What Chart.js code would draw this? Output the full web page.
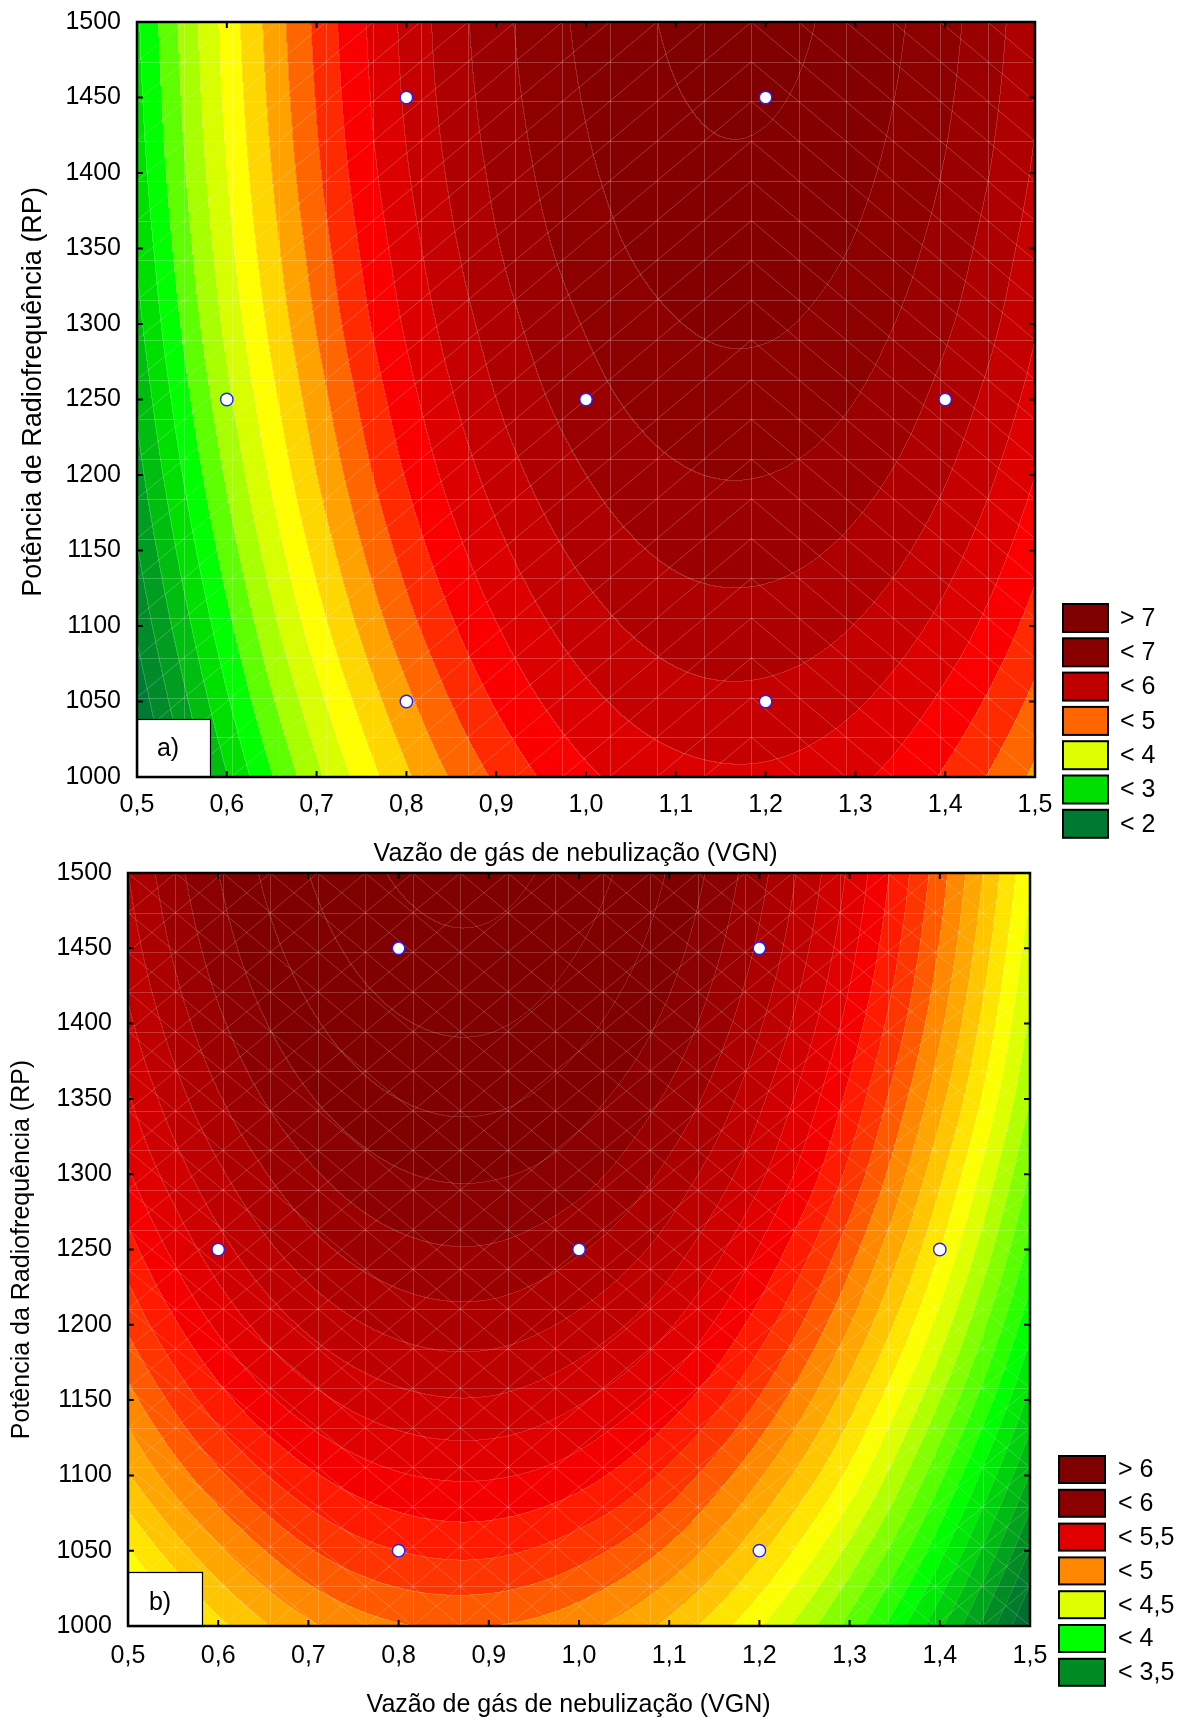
<!DOCTYPE html>
<html lang="pt">
<head>
<meta charset="utf-8">
<script src="https://cdn.jsdelivr.net/npm/chart.js@4.4.1/dist/chart.umd.min.js"></script>
<style>
html,body{margin:0;padding:0;background:#ffffff;}
#page{position:relative;width:1188px;height:1720px;overflow:hidden;background:#fff;}
canvas{position:absolute;left:0;}
</style>
</head>
<body>
<div id="page">
<canvas id="chartA" width="1188" height="870" style="top:0px"></canvas>
<canvas id="chartB" width="1188" height="870" style="top:850px"></canvas>
</div>
<script>
const FONT = "'Liberation Sans', Arial, Helvetica, sans-serif";
Chart.defaults.font.family = FONT;
Chart.defaults.font.size = 25;
Chart.defaults.color = '#000';

// ---- data ----
const vgnGrid = [0.5, 0.6, 0.7, 0.8, 0.9, 1.0, 1.1, 1.2, 1.3, 1.4, 1.5];
const rpGrid = [1000, 1050, 1100, 1150, 1200, 1250, 1300, 1350, 1400, 1450, 1500];
const xTickValues = [0.5, 0.6, 0.7, 0.8, 0.9, 1.0, 1.1, 1.2, 1.3, 1.4, 1.5];
const yTickValues = [1000, 1050, 1100, 1150, 1200, 1250, 1300, 1350, 1400, 1450, 1500];

// response surface a) — rows follow rpGrid, columns follow vgnGrid (estimated from picture)
const surfaceA = [
  [1.60, 2.74, 3.69, 4.46, 5.04, 5.45, 5.66, 5.70, 5.55, 5.21, 4.69],
  [1.83, 2.97, 3.92, 4.69, 5.28, 5.68, 5.90, 5.93, 5.78, 5.44, 4.93],
  [2.05, 3.18, 4.14, 4.91, 5.49, 5.89, 6.11, 6.14, 5.99, 5.66, 5.14],
  [2.24, 3.37, 4.33, 5.10, 5.68, 6.08, 6.30, 6.33, 6.18, 5.85, 5.33],
  [2.41, 3.54, 4.50, 5.27, 5.85, 6.25, 6.47, 6.50, 6.35, 6.02, 5.50],
  [2.55, 3.69, 4.64, 5.41, 6.00, 6.40, 6.62, 6.65, 6.50, 6.16, 5.65],
  [2.68, 3.82, 4.77, 5.54, 6.12, 6.52, 6.74, 6.78, 6.62, 6.29, 5.77],
  [2.78, 3.92, 4.87, 5.64, 6.23, 6.63, 6.85, 6.88, 6.73, 6.39, 5.87],
  [2.87, 4.00, 4.96, 5.73, 6.31, 6.71, 6.93, 6.96, 6.81, 6.48, 5.96],
  [2.93, 4.06, 5.02, 5.79, 6.37, 6.77, 6.99, 7.02, 6.87, 6.54, 6.02],
  [2.97, 4.10, 5.06, 5.82, 6.41, 6.81, 7.03, 7.06, 6.91, 6.58, 6.06]
];
// response surface b)
const surfaceB = [
  [4.38, 4.67, 4.88, 4.99, 5.00, 4.93, 4.77, 4.51, 4.16, 3.72, 3.18],
  [4.59, 4.88, 5.09, 5.20, 5.22, 5.14, 4.98, 4.72, 4.37, 3.93, 3.39],
  [4.79, 5.08, 5.28, 5.39, 5.41, 5.34, 5.17, 4.91, 4.57, 4.12, 3.59],
  [4.96, 5.26, 5.46, 5.57, 5.59, 5.51, 5.35, 5.09, 4.74, 4.30, 3.77],
  [5.12, 5.42, 5.62, 5.73, 5.75, 5.67, 5.51, 5.25, 4.90, 4.46, 3.93],
  [5.26, 5.56, 5.76, 5.87, 5.89, 5.81, 5.65, 5.39, 5.04, 4.60, 4.07],
  [5.39, 5.68, 5.88, 5.99, 6.01, 5.94, 5.77, 5.52, 5.17, 4.72, 4.19],
  [5.49, 5.79, 5.99, 6.10, 6.12, 6.04, 5.88, 5.62, 5.27, 4.83, 4.30],
  [5.58, 5.88, 6.08, 6.19, 6.21, 6.13, 5.97, 5.71, 5.36, 4.92, 4.38],
  [5.65, 5.95, 6.15, 6.26, 6.28, 6.20, 6.04, 5.78, 5.43, 4.99, 4.45],
  [5.70, 6.00, 6.20, 6.31, 6.33, 6.25, 6.09, 5.83, 5.48, 5.04, 4.51]
];

// experimental design points
const designVGN = [0.6, 0.8, 1.2, 1.0, 1.4, 0.8, 1.2];
const designRP = [1250, 1450, 1450, 1250, 1250, 1050, 1050];

// contour levels and band colours
const levelsA = [1.75, 2.0, 2.25, 2.5, 2.75, 3.0, 3.25, 3.5, 3.75, 4.0, 4.25, 4.5, 4.75, 5.0, 5.25, 5.5, 5.75, 6.0, 6.25, 6.5, 6.75, 7.0];
const bandColorsA = ['#00652f','#007a33','#008a2a','#009e20','#00be10','#00e000','#00ff00','#5eff00','#a8ff00','#d8ff00','#ffff00','#ffd700','#ffa200','#ff6600','#ff2a00','#fa0000','#dc0000','#c40000','#ae0000','#9a0000','#8c0000','#840000','#800000'];
const levelsB = [3.1, 3.2, 3.3, 3.4, 3.5, 3.6, 3.7, 3.8, 3.9, 4.0, 4.1, 4.2, 4.3, 4.4, 4.5, 4.6, 4.7, 4.8, 4.9, 5.0, 5.1, 5.2, 5.3, 5.4, 5.5, 5.6, 5.7, 5.8, 5.9, 6.0, 6.1, 6.2, 6.3];
const bandColorsB = ['#005c38','#006535','#006e30','#007c2a','#008c22','#00a31b','#00ba14','#00d10d','#00e806','#00ff00','#2bff00','#59ff00','#84ff00','#b2ff00','#ddff00','#fbff00','#ffe400','#ffc500','#ffa700','#ff8800','#ff5a00','#ff3500','#ff1a00','#f50000','#e00000','#ce0000','#bd0000','#ac0000','#9b0000','#8b0000','#800000','#800000','#800000','#800000'];

const legendLabelsA = ['> 7', '< 7', '< 6', '< 5', '< 4', '< 3', '< 2'];
const legendColorsA = ['#7f0000', '#880000', '#c00000', '#ff6600', '#ddff00', '#00e000', '#007a33'];
const legendLabelsB = ['> 6', '< 6', '< 5,5', '< 5', '< 4,5', '< 4', '< 3,5'];
const legendColorsB = ['#7f0000', '#8b0000', '#e00000', '#ff8800', '#ddff00', '#00ff00', '#008c22'];

const xTitle = 'Vazão de gás de nebulização (VGN)\u00a0\u00a0\u00a0';
const yTitleA = '\u00a0\u00a0Potência de Radiofrequência (RP)';
const yTitleB = 'Potência da Radiofrequência (RP)';

// ---- surface sampler (cubic convolution between the grid values) ----
function buildField(xs, ys, Z) {
  const n = ys.length, m = xs.length;
  const ext = r => [3*r[0]-3*r[1]+r[2]].concat(r, [3*r[m-1]-3*r[m-2]+r[m-3]]);
  const rows = Z.map(ext);
  const first = rows[0].map((v,i)=>3*v-3*rows[1][i]+rows[2][i]);
  const last = rows[n-1].map((v,i)=>3*v-3*rows[n-2][i]+rows[n-3][i]);
  const E = [first].concat(rows, [last]);
  const dx = xs[1]-xs[0], dy = ys[1]-ys[0];
  const wts = t => { const t2=t*t, t3=t2*t; return [(-t3+2*t2-t)/2, (3*t3-5*t2+2)/2, (-3*t3+4*t2+t)/2, (t3-t2)/2]; };
  const locate = (v, v0, d, cnt) => { let f=(v-v0)/d; if(f<0)f=0; if(f>cnt-1)f=cnt-1; let i=Math.floor(f); if(i>cnt-2)i=cnt-2; return {i:i, t:f-i}; };
  const rowAt = yv => { const L=locate(yv, ys[0], dy, n); const j=L.i; const w=wts(L.t); const out=new Float64Array(m+2); for(let i=0;i<m+2;i++) out[i]=w[0]*E[j][i]+w[1]*E[j+1][i]+w[2]*E[j+2][i]+w[3]*E[j+3][i]; return out; };
  const colAt = xv => { const L=locate(xv, xs[0], dx, m); return {i:L.i, w:wts(L.t)}; };
  const evalRow = (r, c) => c.w[0]*r[c.i]+c.w[1]*r[c.i+1]+c.w[2]*r[c.i+2]+c.w[3]*r[c.i+3];
  return {rowAt, colAt, evalRow, at:(xv,yv)=>evalRow(rowAt(yv), colAt(xv))};
}

function makeContourPlugin(o) {
  return {
    id: 'contourField',
    beforeDatasetsDraw(chart) {
      const ctx = chart.ctx, a = chart.chartArea, xs = chart.scales.x, ys = chart.scales.y;
      const L = Math.round(a.left), T = Math.round(a.top), R = Math.round(a.right), B = Math.round(a.bottom);
      const W = R - L, H = B - T;
      const img = ctx.createImageData(W, H);
      const d = img.data;
      const rgb = o.colors.map(h => [parseInt(h.slice(1,3),16), parseInt(h.slice(3,5),16), parseInt(h.slice(5,7),16)]);
      const lv = o.levels, nl = lv.length;
      const cols = [];
      for (let px=0; px<W; px++) cols.push(o.field.colAt(xs.getValueForPixel(L+px+0.5)));
      let prev = new Int16Array(W), cur = new Int16Array(W);
      const la = o.lineAlpha;
      for (let py=0; py<H; py++) {
        const r = o.field.rowAt(ys.getValueForPixel(T+py+0.5));
        for (let px=0; px<W; px++) {
          const z = o.field.evalRow(r, cols[px]);
          let b = 0; while (b < nl && z >= lv[b]) b++;
          cur[px] = b;
          const c = rgb[b];
          let r0=c[0], g0=c[1], b0=c[2];
          if ((px>0 && cur[px-1]!==b) || (py>0 && prev[px]!==b)) { r0 += (255-r0)*la; g0 += (255-g0)*la; b0 += (255-b0)*la; }
          const k = (py*W+px)*4;
          d[k]=r0; d[k+1]=g0; d[k+2]=b0; d[k+3]=255;
        }
        const tmp = prev; prev = cur; cur = tmp;
      }
      ctx.putImageData(img, L, T);
      ctx.save();
      ctx.beginPath(); ctx.rect(L, T, W, H); ctx.clip();
      ctx.strokeStyle = o.meshColor; ctx.lineWidth = 1;
      const N = o.meshDiv;
      ctx.beginPath();
      for (let k=1;k<N;k++){
        const X = Math.round(L + k*W/N)+0.5; ctx.moveTo(X,T); ctx.lineTo(X,B);
        const Y = Math.round(T + k*H/N)+0.5; ctx.moveTo(L,Y); ctx.lineTo(R,Y);
      }
      const f = (px,py)=>o.field.at(xs.getValueForPixel(px), ys.getValueForPixel(py));
      for (let ci=0; ci<N; ci++) for (let cj=0; cj<N; cj++) {
        const x0=L+ci*W/N, x1=L+(ci+1)*W/N, y0=T+cj*H/N, y1=T+(cj+1)*H/N;
        let up = true, down = true;
        if (!o.meshBoth) {
          const zTL=f(x0,y0), zTR=f(x1,y0), zBL=f(x0,y1), zBR=f(x1,y1);
          up = Math.abs(zTR-zBL) >= Math.abs(zTL-zBR); down = !up;
        }
        if (up) { ctx.moveTo(x0,y1); ctx.lineTo(x1,y0); }
        if (down) { ctx.moveTo(x0,y0); ctx.lineTo(x1,y1); }
      }
      ctx.stroke();
      ctx.restore();
    },
    afterDatasetsDraw(chart) {
      const ctx = chart.ctx, a = chart.chartArea, xs = chart.scales.x, ys = chart.scales.y;
      ctx.save();
      const tg = o.tag;
      ctx.fillStyle='#fff'; ctx.fillRect(a.left, a.bottom - tg.h, tg.w, tg.h);
      ctx.strokeStyle='#000'; ctx.lineWidth=1.2; ctx.strokeRect(a.left+0.5, a.bottom - tg.h+0.5, tg.w, tg.h);
      ctx.fillStyle='#000'; ctx.font = '25px ' + FONT; ctx.textAlign='center'; ctx.textBaseline='middle';
      ctx.fillText(tg.text, a.left+tg.tx, a.bottom - tg.ty);
      ctx.lineWidth=2.5; ctx.strokeStyle='#000';
      ctx.strokeRect(a.left, a.top, a.right-a.left, a.bottom-a.top);
      ctx.lineWidth=2; ctx.beginPath();
      xs.ticks.forEach(t=>{ const p=xs.getPixelForValue(t.value); ctx.moveTo(p,a.bottom); ctx.lineTo(p,a.bottom-6); ctx.moveTo(p,a.top); ctx.lineTo(p,a.top+6); });
      ys.ticks.forEach(t=>{ const p=ys.getPixelForValue(t.value); ctx.moveTo(a.left,p); ctx.lineTo(a.left+6,p); ctx.moveTo(a.right,p); ctx.lineTo(a.right-6,p); });
      ctx.stroke();
      const lg = o.legend;
      ctx.textAlign='left';
      lg.labels.forEach((lab,i)=>{
        const y=lg.y+i*lg.step;
        ctx.fillStyle=lg.colors[i]; ctx.fillRect(lg.x,y,lg.w,lg.h);
        ctx.lineWidth=2; ctx.strokeStyle='#000'; ctx.strokeRect(lg.x,y,lg.w,lg.h);
        ctx.fillStyle='#000'; ctx.fillText(lab, lg.textX, y+lg.h/2+1);
      });
      ctx.restore();
    }
  };
}

function makeChart(id, p) {
  return new Chart(document.getElementById(id), {
    type: 'scatter',
    data: { datasets: [{
      data: designVGN.map((v,i)=>({x:v, y:designRP[i]})),
      pointRadius: 6.2, pointHoverRadius: 6.2,
      pointBackgroundColor: '#ffffff', pointBorderColor: '#1f1fff', pointBorderWidth: 1.4,
      showLine: false, clip: false
    }]},
    options: {
      responsive: false, animation: false, devicePixelRatio: 1, events: [],
      layout: { padding: p.padding },
      plugins: { legend: {display:false}, tooltip: {enabled:false} },
      scales: {
        x: { type:'linear', position:'bottom', min:0.5, max:1.5,
          afterBuildTicks: s => { s.ticks = xTickValues.map(v=>({value:v})); },
          afterFit: s => { s.height = p.xAxisHeight; s.paddingLeft = 0; s.paddingRight = 0; },
          grid: {display:false, drawTicks:false}, border: {display:false},
          ticks: { autoSkip:false, maxRotation:0, padding:p.xTickPad, color:'#000', font:{size:25},
                   callback: v => Number(v).toFixed(1).replace('.', ',') },
          title: { display:true, text:xTitle, color:'#000', font:{size:25}, padding:{top:0, bottom:p.xTitlePad} } },
        y: { type:'linear', position:'left', min:1000, max:1500,
          afterBuildTicks: s => { s.ticks = yTickValues.map(v=>({value:v})); },
          afterFit: s => { s.width = p.yAxisWidth; s.paddingTop = 0; s.paddingBottom = 0; },
          grid: {display:false, drawTicks:false}, border: {display:false},
          ticks: { autoSkip:false, padding:16, color:'#000', font:{size:25}, callback: v => String(v) },
          title: { display:true, text:p.yTitle, color:'#000', font:{size:p.yTitleSize}, padding:{top:p.yTitlePad, bottom:0} } }
      }
    },
    plugins: [makeContourPlugin(p.contour)]
  });
}

makeChart('chartA', {
  padding: {top:22, right:153, bottom:0, left:0},
  xAxisHeight: 93, yAxisWidth: 137, yTitle: yTitleA, yTitlePad: 17, yTitleSize: 27,
  xTickPad: 13, xTitlePad: 1,
  contour: {
    field: buildField(vgnGrid, rpGrid, surfaceA), levels: levelsA, colors: bandColorsA,
    lineAlpha: 0.16, meshColor: 'rgba(255,255,255,0.22)', meshDiv: 19, meshBoth: false,
    tag: {text:'a)', w:73, h:58, tx:31, ty:28},
    legend: {labels: legendLabelsA, colors: legendColorsA, x:1063, y:604, step:34.3, w:45, h:28, textX:1120}
  }
});
makeChart('chartB', {
  padding: {top:23, right:158, bottom:0, left:0},
  xAxisHeight: 94, yAxisWidth: 128, yTitle: yTitleB, yTitlePad: 7, yTitleSize: 25,
  xTickPad: 15, xTitlePad: 0,
  contour: {
    field: buildField(vgnGrid, rpGrid, surfaceB), levels: levelsB, colors: bandColorsB,
    lineAlpha: 0.14, meshColor: 'rgba(255,255,255,0.2)', meshDiv: 19, meshBoth: true,
    tag: {text:'b)', w:74, h:54, tx:32, ty:23},
    legend: {labels: legendLabelsB, colors: legendColorsB, x:1059, y:606, step:33.8, w:46, h:27, textX:1118}
  }
});
</script>
</body>
</html>
